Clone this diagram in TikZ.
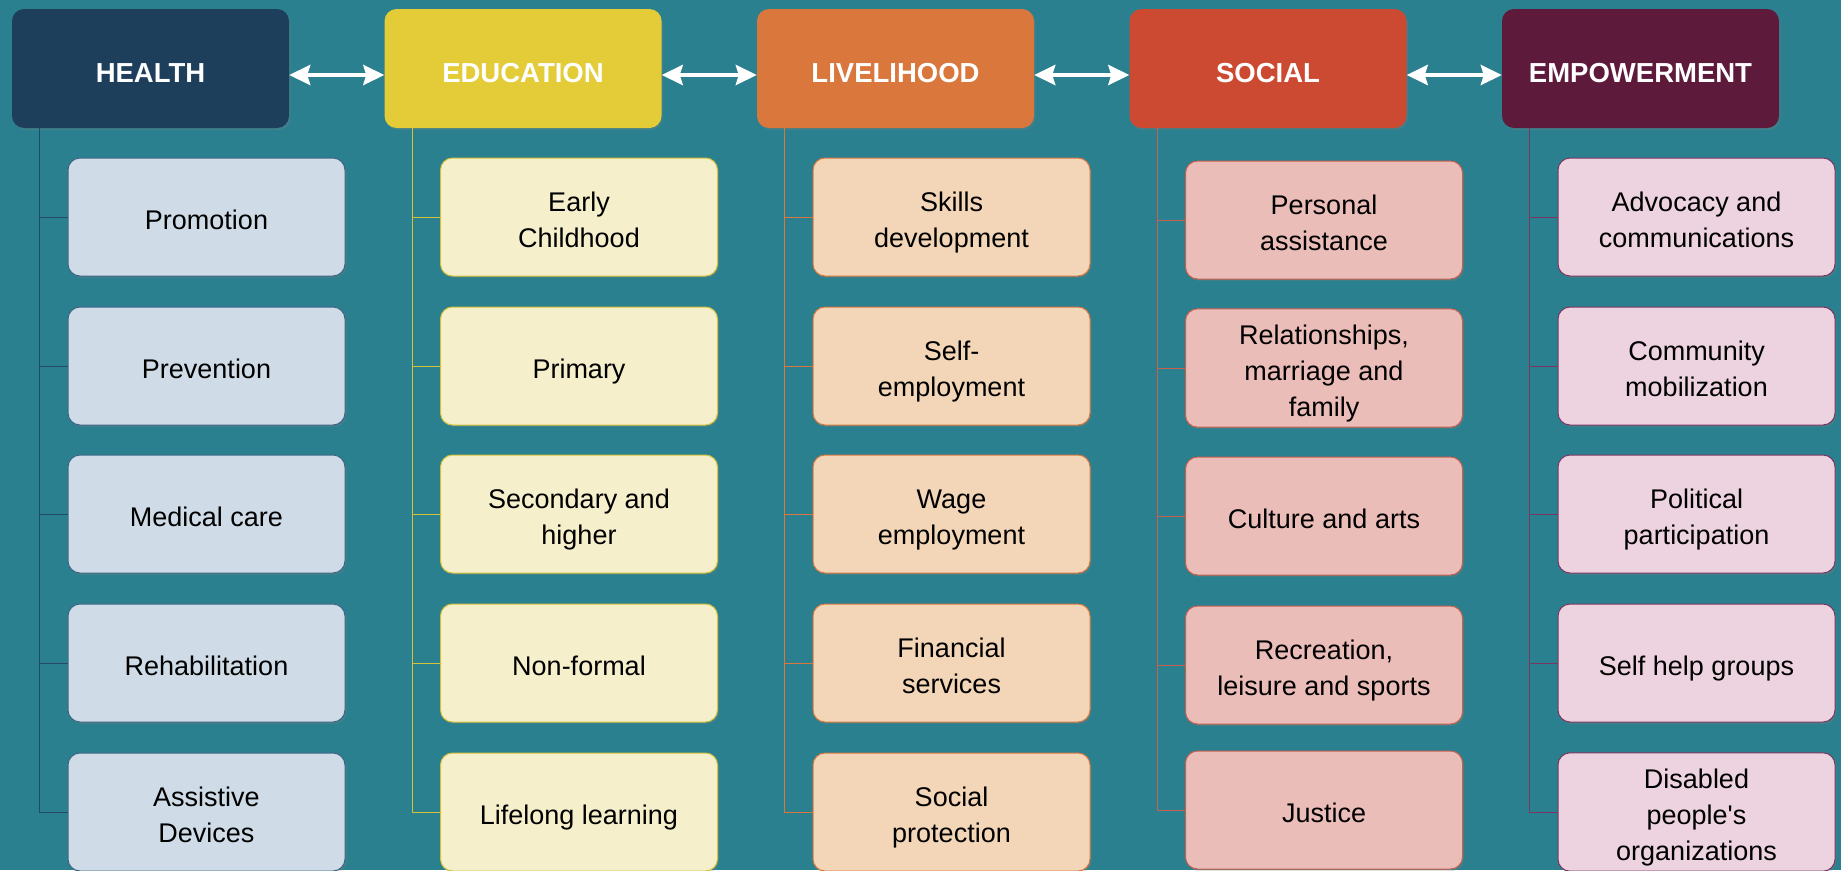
\documentclass[tikz,border=0pt]{standalone}
\usepackage{fontspec}
\setmainfont{Liberation Sans}
\usetikzlibrary{arrows.meta,shadows}

\definecolor{bgteal}{HTML}{2A808F}
\definecolor{healthdark}{HTML}{1E3F5C}
\definecolor{healthlight}{HTML}{CFDCE7}
\definecolor{healthedge}{HTML}{3F6485}
\definecolor{healthtree}{HTML}{24496A}
\definecolor{educdark}{HTML}{E3CC38}
\definecolor{educlight}{HTML}{F5EFCB}
\definecolor{educedge}{HTML}{D5C23A}
\definecolor{livedark}{HTML}{D9773D}
\definecolor{livelight}{HTML}{F3D6B7}
\definecolor{liveedge}{HTML}{D9773D}
\definecolor{socialdark}{HTML}{CD4A32}
\definecolor{sociallight}{HTML}{EBBDB8}
\definecolor{socialedge}{HTML}{C9604E}
\definecolor{empowerdark}{HTML}{5E1A3B}
\definecolor{empowerlight}{HTML}{EDD3DF}
\definecolor{empoweredge}{HTML}{7A3562}

% centred lines with a fixed top gap
\newcommand{\itemlines}[1]{\begin{tabular}{@{}c@{}}\rule{0pt}{35.6pt}#1\end{tabular}}

\tikzset{
  head/.style={rounded corners=12pt, minimum width=277pt, minimum height=119pt,
    text=white, font=\fontsize{27.5}{36}\selectfont\bfseries,
    execute at begin node={\rule{0pt}{28pt}},
    drop shadow={shadow xshift=1.5pt, shadow yshift=-2pt, opacity=0.25}},
  item/.style={rounded corners=12pt, minimum width=277pt, minimum height=118pt,
    inner ysep=0pt, line width=1pt, font=\fontsize{27}{36}\selectfont,
    drop shadow={shadow xshift=1.5pt, shadow yshift=-2pt, opacity=0.25}},
  link/.style={white, line width=4pt,
    {Stealth[length=21pt,width=20pt,inset=3pt]}-{Stealth[length=21pt,width=20pt,inset=3pt]}},
  healthline/.style={healthtree, line width=1pt},
  educline/.style={educedge, line width=1pt},
  liveline/.style={liveedge, line width=1pt},
  socialline/.style={socialedge, line width=1pt},
  empowerline/.style={empoweredge, line width=1pt}
}

\begin{document}
\begin{tikzpicture}[x=1pt, y=-1pt]
  % background
  \useasboundingbox (0,0) rectangle (1841,870);
  \fill[bgteal] (0,0) rectangle (1841,870);

  % headers
  \node[head, fill=healthdark] (health) at (150.5,68.5) {HEALTH};
  \node[head, fill=educdark] (educ) at (523,68.5) {EDUCATION};
  \node[head, fill=livedark] (live) at (895.5,68.5) {LIVELIHOOD};
  \node[head, fill=socialdark] (social) at (1268,68.5) {SOCIAL};
  \node[head, fill=empowerdark] (empower) at (1640.5,68.5) {EMPOWERMENT};

  % arrows between headers
  \draw[link] ([yshift=-6.5pt]health.east) -- ([yshift=-6.5pt]educ.west);
  \draw[link] ([yshift=-6.5pt]educ.east) -- ([yshift=-6.5pt]live.west);
  \draw[link] ([yshift=-6.5pt]live.east) -- ([yshift=-6.5pt]social.west);
  \draw[link] ([yshift=-6.5pt]social.east) -- ([yshift=-6.5pt]empower.west);

  % health
  \node[item, fill=healthlight, draw=healthedge] (health1) at (206.5,217) {\itemlines{Promotion}};
  \node[item, fill=healthlight, draw=healthedge] (health2) at (206.5,366) {\itemlines{Prevention}};
  \node[item, fill=healthlight, draw=healthedge] (health3) at (206.5,514) {\itemlines{Medical care}};
  \node[item, fill=healthlight, draw=healthedge] (health4) at (206.5,663) {\itemlines{Rehabilitation}};
  \node[item, fill=healthlight, draw=healthedge] (health5) at (206.5,812) {\itemlines{Assistive\\Devices}};

  % education
  \node[item, fill=educlight, draw=educedge] (educ1) at (579,217) {\itemlines{Early\\Childhood}};
  \node[item, fill=educlight, draw=educedge] (educ2) at (579,366) {\itemlines{Primary}};
  \node[item, fill=educlight, draw=educedge] (educ3) at (579,514) {\itemlines{Secondary and\\higher}};
  \node[item, fill=educlight, draw=educedge] (educ4) at (579,663) {\itemlines{Non-formal}};
  \node[item, fill=educlight, draw=educedge] (educ5) at (579,812) {\itemlines{Lifelong learning}};

  % livelihood
  \node[item, fill=livelight, draw=liveedge] (live1) at (951.5,217) {\itemlines{Skills\\development}};
  \node[item, fill=livelight, draw=liveedge] (live2) at (951.5,366) {\itemlines{Self-\\employment}};
  \node[item, fill=livelight, draw=liveedge] (live3) at (951.5,514) {\itemlines{Wage\\employment}};
  \node[item, fill=livelight, draw=liveedge] (live4) at (951.5,663) {\itemlines{Financial\\services}};
  \node[item, fill=livelight, draw=liveedge] (live5) at (951.5,812) {\itemlines{Social\\protection}};

  % social
  \node[item, fill=sociallight, draw=socialedge] (social1) at (1324,220) {\itemlines{Personal\\assistance}};
  \node[item, fill=sociallight, draw=socialedge] (social2) at (1324,368) {\itemlines{Relationships,\\marriage and\\family}};
  \node[item, fill=sociallight, draw=socialedge] (social3) at (1324,516) {\itemlines{Culture and arts}};
  \node[item, fill=sociallight, draw=socialedge] (social4) at (1324,665) {\itemlines{Recreation,\\leisure and sports}};
  \node[item, fill=sociallight, draw=socialedge] (social5) at (1324,810) {\itemlines{Justice}};

  % empowerment
  \node[item, fill=empowerlight, draw=empoweredge] (empower1) at (1696.5,217) {\itemlines{Advocacy and\\communications}};
  \node[item, fill=empowerlight, draw=empoweredge] (empower2) at (1696.5,366) {\itemlines{Community\\mobilization}};
  \node[item, fill=empowerlight, draw=empoweredge] (empower3) at (1696.5,514) {\itemlines{Political\\participation}};
  \node[item, fill=empowerlight, draw=empoweredge] (empower4) at (1696.5,663) {\itemlines{Self help groups}};
  \node[item, fill=empowerlight, draw=empoweredge] (empower5) at (1696.5,812) {\itemlines{Disabled\\people\textquotesingle s\\organizations}};

  % tree lines
  \foreach \col in {health, educ, live, social, empower}{
    \foreach \k in {1,...,5}{
      \draw[\col line] ([xshift=28pt]\col.south west) |- (\col\k.west);
    }
  }
\end{tikzpicture}
\end{document}
